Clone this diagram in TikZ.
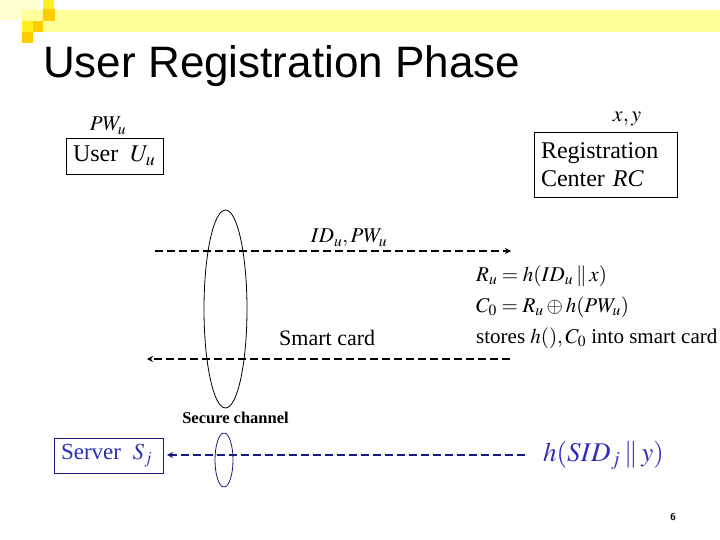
\documentclass[tikz,border=0pt]{standalone}
\usepackage{mathptmx}
\usepackage{fontspec}
\setmainfont{Liberation Serif}
\newfontfamily\titlefont{Liberation Sans}
\usetikzlibrary{arrows.meta}
\definecolor{bandyellow}{HTML}{FFFF99}
\definecolor{paleyellow}{HTML}{FFFFD0}
\definecolor{goldsq}{HTML}{FFCC00}
\definecolor{yellowsq}{HTML}{FFEE22}
\definecolor{navyline}{HTML}{1A1A80}
\definecolor{bluetext}{HTML}{2E2EB8}
\begin{document}
\begin{tikzpicture}[x=1pt,y=-1pt,
  boxed/.style={draw, line width=0.9pt, inner xsep=7pt, inner ysep=0pt, align=left},
  lbl/.style={inner sep=0pt, font=\fontsize{21}{22}\selectfont},
  dasharrow/.style={dashed, dash pattern=on 8pt off 4pt, line width=1.8pt, -{Stealth[length=6pt,width=6pt]}},
  chan/.style={line width=0.8pt}]
\useasboundingbox (0,0) rectangle (720,540);
\fill[white] (0,0) rectangle (720,540);
% header decoration
\fill[paleyellow] (0,0) rectangle (40,20);
\fill[bandyellow] (22,10) rectangle (720,32);
\fill[yellowsq] (43,0) rectangle (54,9);
\fill[goldsq] (43,9) rectangle (55,21);
\fill[yellowsq] (22,21) rectangle (33,32);
\fill[goldsq] (33,21) rectangle (43,32);
\fill[goldsq] (22,32) rectangle (33,43);
% title
\node[anchor=base west, inner sep=0pt, font=\titlefont\fontsize{44}{48}\selectfont] (title) at (43,78) {User Registration Phase};
% boxes
\node[boxed, minimum height=36pt, text width=83pt, font=\fontsize{24}{26}\selectfont] (user) at (114.5,156) {User\, $U_u$};
\node[lbl, anchor=base] (pw) at (108,131) {$PW_u$};
\node[boxed, minimum height=65pt, text width=129pt, font=\fontsize{24}{28}\selectfont] (rc) at (605.5,164.5) {Registration\\Center \textit{RC}};
\node[lbl, anchor=base, font=\fontsize{22}{24}\selectfont] (xy) at (627,122) {$x, y$};
\node[boxed, draw=navyline, text=bluetext, minimum height=35pt, text width=95pt, font=\fontsize{23}{25}\selectfont] (server) at (108.5,455.5) {Server\, $S_j$};
% secure channels
\draw[chan] (225.5,309) ellipse [x radius=21.5, y radius=99];
\node[inner sep=0pt, anchor=base, font=\fontsize{16.5}{18}\bfseries\selectfont] (sc) at (235.5,423) {Secure channel};
\draw[chan, draw=navyline] (224,460) ellipse [x radius=9, y radius=27];
% arrows
\coordinate (a1s) at (155,251);
\coordinate (a1e) at (511,251);
\coordinate (a2s) at (510,359);
\coordinate (a2e) at (147,359);
\coordinate (a3s) at (525,455);
\coordinate (a3e) at (167,455);
\draw[dasharrow] (a1s) -- (a1e);
\draw[dasharrow] (a2s) -- (a2e);
\draw[dasharrow, draw=navyline] (a3s) -- (a3e);
\node[lbl, anchor=base] (idpw) at (349,243) {$ID_u, PW_u$};
\node[inner sep=0pt, anchor=base west, font=\fontsize{22}{24}\selectfont] (smart) at (279,345) {Smart card};
\node[inner sep=0pt, anchor=base west, font=\fontsize{21}{24}\selectfont] (f1) at (476,281) {$R_u = h(ID_u \mathbin{\|} x)$};
\node[inner sep=0pt, anchor=base west, font=\fontsize{21}{24}\selectfont] (f2) at (476,312) {$C_0 = R_u \oplus h(PW_u)$};
\node[inner sep=0pt, anchor=base west, font=\fontsize{21}{24}\selectfont] (f3) at (476,343) {stores $h(), C_0$ into smart card};
\node[inner sep=0pt, anchor=base west, text=bluetext, font=\fontsize{27}{30}\selectfont] (hs) at (543,461) {$h(SID_j \mathbin{\|} y)$};
\node[inner sep=0pt, anchor=base, font=\sffamily\bfseries\fontsize{10}{12}\selectfont] (page) at (673,520) {6};
\end{tikzpicture}
\end{document}
